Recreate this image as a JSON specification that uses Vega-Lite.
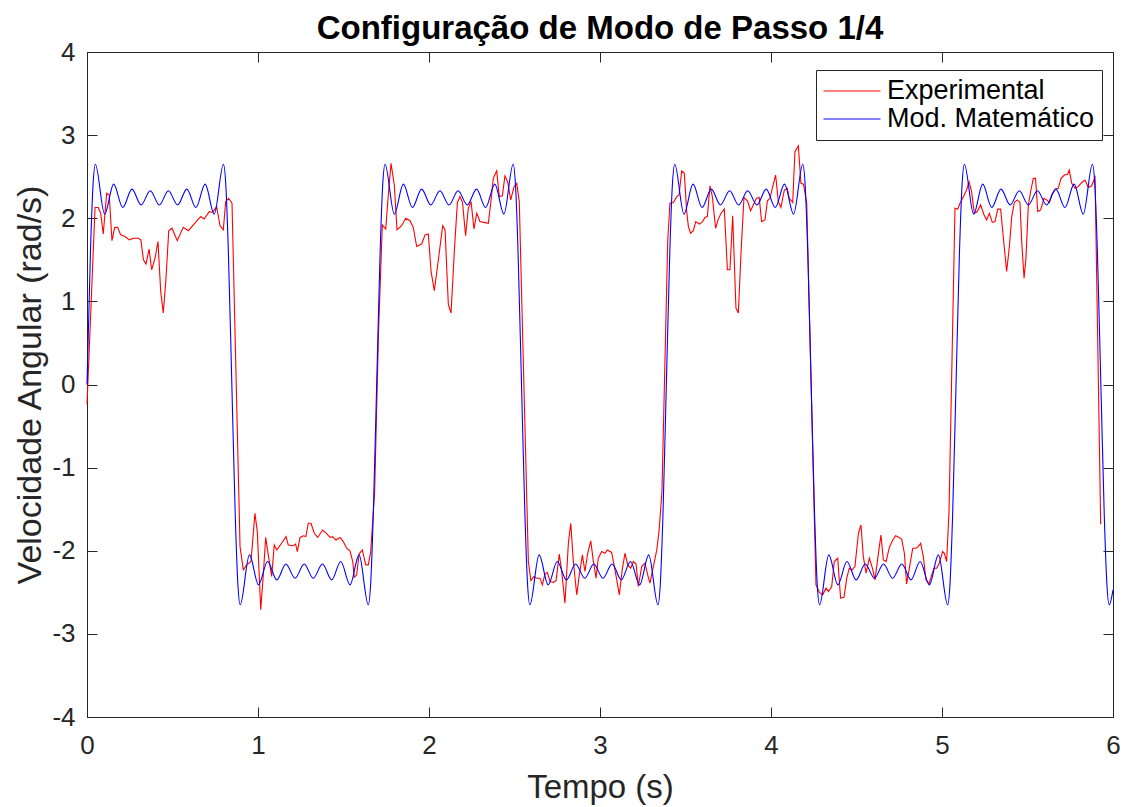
{
  "$schema": "https://vega.github.io/schema/vega-lite/v6.json",
  "width": 1026,
  "height": 665,
  "autosize": {"type": "none"},
  "padding": {"left": 87, "top": 52, "right": 10, "bottom": 90},
  "background": "white",
  "title": {"text": "Configuração de Modo de Passo 1/4", "font": "Liberation Sans", "fontSize": 33, "fontWeight": "bold", "color": "#000000", "anchor": "middle", "offset": -7},
  "config": {
    "view": {"stroke": "#262626", "strokeWidth": 1},
    "axis": {"grid": false, "domainColor": "#262626", "tickColor": "#262626", "labelColor": "#262626", "titleColor": "#262626", "labelFont": "Liberation Sans", "titleFont": "Liberation Sans", "labelFontSize": 26, "titleFontSize": 33, "titleFontWeight": "normal", "tickSize": -10, "labelFlush": false, "labelOverlap": false}
  },
  "datasets": {
    "exp": [
      {"t":0,"v":-0.24},{"t":0.047,"v":2.13},{"t":0.066,"v":2.13},{"t":0.08,"v":2.06},{"t":0.095,"v":1.81},{"t":0.115,"v":2.30},{"t":0.13,"v":2.28},{"t":0.146,"v":1.73},{"t":0.162,"v":1.89},{"t":0.179,"v":1.89},{"t":0.197,"v":1.80},{"t":0.222,"v":1.78},{"t":0.248,"v":1.74},{"t":0.271,"v":1.76},{"t":0.3,"v":1.76},{"t":0.315,"v":1.74},{"t":0.33,"v":1.50},{"t":0.345,"v":1.45},{"t":0.363,"v":1.63},{"t":0.378,"v":1.38},{"t":0.398,"v":1.52},{"t":0.415,"v":1.72},{"t":0.431,"v":1.12},{"t":0.446,"v":0.86},{"t":0.462,"v":1.28},{"t":0.478,"v":1.85},{"t":0.497,"v":1.88},{"t":0.528,"v":1.73},{"t":0.563,"v":1.89},{"t":0.593,"v":1.85},{"t":0.622,"v":1.92},{"t":0.651,"v":1.99},{"t":0.666,"v":2.02},{"t":0.685,"v":1.99},{"t":0.715,"v":2.08},{"t":0.735,"v":2.07},{"t":0.758,"v":2.14},{"t":0.778,"v":1.91},{"t":0.797,"v":1.86},{"t":0.811,"v":2.20},{"t":0.828,"v":2.24},{"t":0.848,"v":2.18},
      {"t":0.895,"v":-1.95},{"t":0.914,"v":-2.23},{"t":0.934,"v":-2.17},{"t":0.959,"v":-2.13},{"t":0.982,"v":-1.55},{"t":0.996,"v":-1.77},{"t":1.016,"v":-2.71},{"t":1.031,"v":-2.29},{"t":1.045,"v":-1.84},{"t":1.06,"v":-2.05},{"t":1.08,"v":-2.31},{"t":1.095,"v":-1.93},{"t":1.11,"v":-1.99},{"t":1.138,"v":-1.91},{"t":1.164,"v":-1.83},{"t":1.177,"v":-1.93},{"t":1.206,"v":-1.94},{"t":1.22,"v":-1.92},{"t":1.23,"v":-2.01},{"t":1.246,"v":-1.84},{"t":1.265,"v":-1.82},{"t":1.28,"v":-1.83},{"t":1.294,"v":-1.67},{"t":1.31,"v":-1.67},{"t":1.329,"v":-1.79},{"t":1.349,"v":-1.84},{"t":1.378,"v":-1.75},{"t":1.4,"v":-1.79},{"t":1.421,"v":-1.84},{"t":1.435,"v":-1.83},{"t":1.456,"v":-1.87},{"t":1.48,"v":-1.84},{"t":1.499,"v":-1.89},{"t":1.518,"v":-1.97},{"t":1.538,"v":-2.0},{"t":1.554,"v":-2.13},{"t":1.563,"v":-2.32},{"t":1.577,"v":-2.29},{"t":1.591,"v":-2.04},{"t":1.61,"v":-1.99},{"t":1.63,"v":-2.17},{"t":1.645,"v":-2.17},{"t":1.659,"v":-2.01},{"t":1.682,"v":-1.3},{"t":1.705,"v":0.64},
      {"t":1.727,"v":1.92},{"t":1.747,"v":1.87},{"t":1.762,"v":2.28},{"t":1.778,"v":2.66},{"t":1.797,"v":2.40},{"t":1.813,"v":1.86},{"t":1.84,"v":1.91},{"t":1.864,"v":2.0},{"t":1.889,"v":1.97},{"t":1.908,"v":1.89},{"t":1.928,"v":1.66},{"t":1.957,"v":1.69},{"t":1.977,"v":1.80},{"t":1.996,"v":1.81},{"t":2.012,"v":1.36},{"t":2.031,"v":1.13},{"t":2.051,"v":1.44},{"t":2.08,"v":1.91},{"t":2.094,"v":1.86},{"t":2.113,"v":0.96},{"t":2.129,"v":0.86},{"t":2.148,"v":1.60},{"t":2.166,"v":2.19},{"t":2.181,"v":2.26},{"t":2.196,"v":2.19},{"t":2.214,"v":1.79},{"t":2.23,"v":2.12},{"t":2.246,"v":2.2},{"t":2.263,"v":1.87},{"t":2.279,"v":2.06},{"t":2.298,"v":1.96},{"t":2.321,"v":1.95},{"t":2.347,"v":1.94},{"t":2.361,"v":2.18},{"t":2.376,"v":2.48},{"t":2.396,"v":2.57},{"t":2.411,"v":2.26},{"t":2.429,"v":2.27},{"t":2.444,"v":2.51},{"t":2.46,"v":2.44},{"t":2.478,"v":2.22},{"t":2.497,"v":2.38},{"t":2.513,"v":2.42},{"t":2.528,"v":2.2},
      {"t":2.581,"v":-2.13},{"t":2.596,"v":-2.36},{"t":2.614,"v":-2.31},{"t":2.63,"v":-2.33},{"t":2.649,"v":-2.33},{"t":2.663,"v":-2.41},{"t":2.678,"v":-2.28},{"t":2.692,"v":-2.26},{"t":2.708,"v":-2.37},{"t":2.727,"v":-2.38},{"t":2.743,"v":-2.36},{"t":2.762,"v":-2.04},{"t":2.776,"v":-2.25},{"t":2.795,"v":-2.63},{"t":2.815,"v":-1.91},{"t":2.829,"v":-1.67},{"t":2.844,"v":-2.13},{"t":2.864,"v":-2.53},{"t":2.879,"v":-2.29},{"t":2.897,"v":-2.05},{"t":2.912,"v":-2.25},{"t":2.928,"v":-2.03},{"t":2.946,"v":-1.88},{"t":2.96,"v":-2.11},{"t":2.977,"v":-2.33},{"t":2.99,"v":-2.09},{"t":3.01,"v":-2.01},{"t":3.029,"v":-2.03},{"t":3.043,"v":-1.99},{"t":3.068,"v":-2.02},{"t":3.084,"v":-2.19},{"t":3.098,"v":-2.35},{"t":3.113,"v":-2.53},{"t":3.13,"v":-2.23},{"t":3.146,"v":-2.03},{"t":3.162,"v":-2.17},{"t":3.18,"v":-2.21},{"t":3.195,"v":-2.13},{"t":3.211,"v":-2.16},{"t":3.224,"v":-2.43},{"t":3.244,"v":-2.19},{"t":3.263,"v":-2.15},{"t":3.279,"v":-2.29},{"t":3.292,"v":-2.39},{"t":3.312,"v":-2.19},{"t":3.332,"v":-1.99},{"t":3.345,"v":-1.77},{"t":3.362,"v":-1.3},{"t":3.379,"v":0.2},
      {"t":3.396,"v":1.72},{"t":3.409,"v":2.18},{"t":3.429,"v":2.19},{"t":3.449,"v":2.26},{"t":3.462,"v":2.28},{"t":3.478,"v":2.57},{"t":3.493,"v":2.54},{"t":3.507,"v":2.08},{"t":3.517,"v":1.90},{"t":3.53,"v":1.82},{"t":3.546,"v":1.85},{"t":3.56,"v":1.96},{"t":3.581,"v":1.93},{"t":3.6,"v":1.96},{"t":3.614,"v":2.01},{"t":3.628,"v":2.02},{"t":3.643,"v":2.39},{"t":3.657,"v":2.26},{"t":3.676,"v":1.88},{"t":3.692,"v":1.99},{"t":3.708,"v":2.06},{"t":3.727,"v":2.11},{"t":3.745,"v":1.38},{"t":3.76,"v":1.38},{"t":3.776,"v":2.03},{"t":3.795,"v":0.92},{"t":3.809,"v":0.86},{"t":3.825,"v":1.60},{"t":3.842,"v":2.25},{"t":3.862,"v":2.21},{"t":3.881,"v":2.09},{"t":3.901,"v":2.18},{"t":3.915,"v":2.24},{"t":3.931,"v":2.25},{"t":3.945,"v":1.96},{"t":3.965,"v":1.98},{"t":3.979,"v":2.21},{"t":3.994,"v":2.24},{"t":4.01,"v":2.38},{"t":4.027,"v":2.52},{"t":4.043,"v":2.20},{"t":4.058,"v":2.13},{"t":4.078,"v":2.34},{"t":4.095,"v":2.36},{"t":4.107,"v":2.24},{"t":4.127,"v":2.19},{"t":4.14,"v":2.80},{"t":4.16,"v":2.87},{"t":4.175,"v":2.42},{"t":4.19,"v":2.41},{"t":4.209,"v":2.18},
      {"t":4.263,"v":-2.41},{"t":4.283,"v":-2.50},{"t":4.302,"v":-2.53},{"t":4.322,"v":-2.45},{"t":4.336,"v":-2.49},{"t":4.355,"v":-2.43},{"t":4.37,"v":-2.13},{"t":4.39,"v":-2.09},{"t":4.407,"v":-2.57},{"t":4.427,"v":-2.56},{"t":4.443,"v":-2.33},{"t":4.458,"v":-2.21},{"t":4.474,"v":-2.23},{"t":4.491,"v":-2.19},{"t":4.511,"v":-1.79},{"t":4.526,"v":-1.69},{"t":4.54,"v":-2.07},{"t":4.556,"v":-2.27},{"t":4.575,"v":-2.09},{"t":4.593,"v":-2.21},{"t":4.608,"v":-2.35},{"t":4.627,"v":-2.05},{"t":4.643,"v":-1.81},{"t":4.657,"v":-2.11},{"t":4.673,"v":-2.13},{"t":4.692,"v":-1.96},{"t":4.712,"v":-1.87},{"t":4.729,"v":-1.82},{"t":4.749,"v":-1.84},{"t":4.764,"v":-1.86},{"t":4.78,"v":-2.03},{"t":4.793,"v":-2.40},{"t":4.809,"v":-2.21},{"t":4.829,"v":-1.97},{"t":4.848,"v":-1.97},{"t":4.861,"v":-1.95},{"t":4.875,"v":-1.91},{"t":4.891,"v":-2.07},{"t":4.906,"v":-2.35},{"t":4.924,"v":-2.40},{"t":4.94,"v":-2.29},{"t":4.953,"v":-2.21},{"t":4.969,"v":-2.21},{"t":4.984,"v":-2.15},{"t":5.004,"v":-2.01},{"t":5.014,"v":-2.03},{"t":5.027,"v":-2.13},{"t":5.041,"v":-1.53},
      {"t":5.076,"v":2.12},{"t":5.092,"v":2.11},{"t":5.105,"v":2.18},{"t":5.125,"v":2.26},{"t":5.144,"v":2.34},{"t":5.158,"v":2.44},{"t":5.173,"v":2.32},{"t":5.189,"v":2.06},{"t":5.206,"v":2.08},{"t":5.226,"v":2.16},{"t":5.246,"v":2.04},{"t":5.261,"v":1.98},{"t":5.277,"v":2.06},{"t":5.294,"v":1.95},{"t":5.31,"v":1.96},{"t":5.326,"v":2.11},{"t":5.343,"v":2.11},{"t":5.359,"v":1.76},{"t":5.378,"v":1.36},{"t":5.394,"v":1.66},{"t":5.408,"v":2.02},{"t":5.423,"v":2.19},{"t":5.44,"v":2.22},{"t":5.456,"v":2.19},{"t":5.466,"v":1.72},{"t":5.48,"v":1.28},{"t":5.491,"v":1.52},{"t":5.505,"v":2.16},{"t":5.52,"v":2.34},{"t":5.534,"v":2.48},{"t":5.547,"v":2.48},{"t":5.56,"v":2.08},{"t":5.577,"v":2.10},{"t":5.596,"v":2.24},{"t":5.612,"v":2.22},{"t":5.628,"v":2.19},{"t":5.641,"v":2.28},{"t":5.661,"v":2.35},{"t":5.68,"v":2.36},{"t":5.696,"v":2.48},{"t":5.716,"v":2.52},{"t":5.735,"v":2.53},{"t":5.744,"v":2.58},{"t":5.759,"v":2.42},{"t":5.778,"v":2.36},{"t":5.797,"v":2.38},{"t":5.817,"v":2.43},{"t":5.836,"v":2.46},{"t":5.856,"v":2.37},{"t":5.875,"v":2.39},{"t":5.889,"v":2.46},{"t":5.895,"v":2.51},{"t":5.928,"v":-1.68}
    ],
    "mod": [
      {"t":0,"v":0},{"t":0.02,"v":1.58},{"t":0.035,"v":2.39},{"t":0.049,"v":2.65},{"t":0.103,"v":2.05},{"t":0.156,"v":2.41},{"t":0.209,"v":2.13},{"t":0.263,"v":2.35},{"t":0.316,"v":2.16},{"t":0.37,"v":2.33},{"t":0.423,"v":2.16},{"t":0.476,"v":2.33},{"t":0.53,"v":2.16},{"t":0.584,"v":2.35},{"t":0.637,"v":2.13},{"t":0.691,"v":2.41},{"t":0.744,"v":2.05},{"t":0.798,"v":2.65},{"t":0.812,"v":2.39},{"t":0.827,"v":1.58},{"t":0.847,"v":0},
      {"t":0.867,"v":-1.58},{"t":0.882,"v":-2.39},{"t":0.896,"v":-2.65},{"t":0.95,"v":-2.05},{"t":1.003,"v":-2.41},{"t":1.056,"v":-2.13},{"t":1.11,"v":-2.35},{"t":1.163,"v":-2.16},{"t":1.217,"v":-2.33},{"t":1.27,"v":-2.16},{"t":1.323,"v":-2.33},{"t":1.377,"v":-2.16},{"t":1.431,"v":-2.35},{"t":1.484,"v":-2.13},{"t":1.538,"v":-2.41},{"t":1.591,"v":-2.05},{"t":1.645,"v":-2.65},{"t":1.659,"v":-2.39},{"t":1.674,"v":-1.58},{"t":1.694,"v":0},
      {"t":1.714,"v":1.58},{"t":1.729,"v":2.39},{"t":1.743,"v":2.65},{"t":1.797,"v":2.05},{"t":1.85,"v":2.41},{"t":1.903,"v":2.13},{"t":1.957,"v":2.35},{"t":2.01,"v":2.16},{"t":2.064,"v":2.33},{"t":2.117,"v":2.16},{"t":2.17,"v":2.33},{"t":2.224,"v":2.16},{"t":2.278,"v":2.35},{"t":2.331,"v":2.13},{"t":2.385,"v":2.41},{"t":2.438,"v":2.05},{"t":2.492,"v":2.65},{"t":2.506,"v":2.39},{"t":2.521,"v":1.58},{"t":2.541,"v":0},
      {"t":2.561,"v":-1.58},{"t":2.576,"v":-2.39},{"t":2.59,"v":-2.65},{"t":2.644,"v":-2.05},{"t":2.697,"v":-2.41},{"t":2.75,"v":-2.13},{"t":2.804,"v":-2.35},{"t":2.857,"v":-2.16},{"t":2.911,"v":-2.33},{"t":2.964,"v":-2.16},{"t":3.017,"v":-2.33},{"t":3.071,"v":-2.16},{"t":3.125,"v":-2.35},{"t":3.178,"v":-2.13},{"t":3.232,"v":-2.41},{"t":3.285,"v":-2.05},{"t":3.339,"v":-2.65},{"t":3.353,"v":-2.39},{"t":3.368,"v":-1.58},{"t":3.388,"v":0},
      {"t":3.408,"v":1.58},{"t":3.423,"v":2.39},{"t":3.437,"v":2.65},{"t":3.491,"v":2.05},{"t":3.544,"v":2.41},{"t":3.597,"v":2.13},{"t":3.651,"v":2.35},{"t":3.704,"v":2.16},{"t":3.758,"v":2.33},{"t":3.811,"v":2.16},{"t":3.864,"v":2.33},{"t":3.918,"v":2.16},{"t":3.972,"v":2.35},{"t":4.025,"v":2.13},{"t":4.079,"v":2.41},{"t":4.132,"v":2.05},{"t":4.186,"v":2.65},{"t":4.2,"v":2.39},{"t":4.215,"v":1.58},{"t":4.235,"v":0},
      {"t":4.255,"v":-1.58},{"t":4.27,"v":-2.39},{"t":4.284,"v":-2.65},{"t":4.338,"v":-2.05},{"t":4.391,"v":-2.41},{"t":4.444,"v":-2.13},{"t":4.498,"v":-2.35},{"t":4.551,"v":-2.16},{"t":4.605,"v":-2.33},{"t":4.658,"v":-2.16},{"t":4.711,"v":-2.33},{"t":4.765,"v":-2.16},{"t":4.819,"v":-2.35},{"t":4.872,"v":-2.13},{"t":4.926,"v":-2.41},{"t":4.979,"v":-2.05},{"t":5.033,"v":-2.65},{"t":5.047,"v":-2.39},{"t":5.062,"v":-1.58},{"t":5.082,"v":0},
      {"t":5.102,"v":1.58},{"t":5.117,"v":2.39},{"t":5.131,"v":2.65},{"t":5.185,"v":2.05},{"t":5.238,"v":2.41},{"t":5.291,"v":2.13},{"t":5.345,"v":2.35},{"t":5.398,"v":2.16},{"t":5.452,"v":2.33},{"t":5.505,"v":2.16},{"t":5.558,"v":2.33},{"t":5.612,"v":2.16},{"t":5.666,"v":2.35},{"t":5.719,"v":2.13},{"t":5.773,"v":2.41},{"t":5.826,"v":2.05},{"t":5.88,"v":2.65},{"t":5.894,"v":2.39},{"t":5.909,"v":1.58},{"t":5.929,"v":0},
      {"t":5.949,"v":-1.58},{"t":5.964,"v":-2.39},{"t":5.978,"v":-2.65},{"t":6.0,"v":-2.47}
    ]
  },
  "layer": [
    {
      "data": {"name": "exp"},
      "mark": {"type": "line", "strokeWidth": 1.1, "interpolate": "linear"},
      "encoding": {
        "x": {"field": "t", "type": "quantitative", "scale": {"domain": [0, 6], "nice": false, "zero": false},
              "axis": {"orient": "bottom", "values": [0,1,2,3,4,5,6], "labelExpr": "'' + datum.value", "title": "Tempo (s)", "labelPadding": 25, "titlePadding": 13}},
        "y": {"field": "v", "type": "quantitative", "scale": {"domain": [-4, 4], "nice": false, "zero": false},
              "axis": {"orient": "left", "values": [-4,-3,-2,-1,0,1,2,3,4], "labelExpr": "'' + datum.value", "title": "Velocidade Angular (rad/s)", "titleFontSize": 34, "labelPadding": 22, "titlePadding": 4}},
        "color": {"datum": "Experimental", "type": "nominal",
                  "scale": {"domain": ["Experimental", "Mod. Matemático"], "range": ["#FF0000", "#0000FF"]},
                  "legend": {"orient": "none", "legendX": 729, "legendY": 18, "title": null, "symbolType": "stroke", "symbolSize": 3249, "symbolStrokeWidth": 1, "labelFont": "Liberation Sans", "labelFontSize": 27, "labelLimit": 0, "labelColor": "#000000", "labelOffset": 6, "clipHeight": 28, "padding": 7, "rowPadding": 0, "strokeColor": "#262626", "fillColor": "white"}}
      }
    },
    {
      "data": {"name": "mod"},
      "mark": {"type": "line", "strokeWidth": 1.1, "interpolate": "monotone"},
      "encoding": {
        "x": {"field": "t", "type": "quantitative",
              "axis": {"orient": "top", "values": [0,1,2,3,4,5,6], "labels": false, "title": null}},
        "y": {"field": "v", "type": "quantitative",
              "axis": {"orient": "right", "values": [-4,-3,-2,-1,0,1,2,3,4], "labels": false, "title": null}},
        "color": {"datum": "Mod. Matemático", "type": "nominal"}
      }
    }
  ],
  "resolve": {"axis": {"x": "independent", "y": "independent"}}
}
